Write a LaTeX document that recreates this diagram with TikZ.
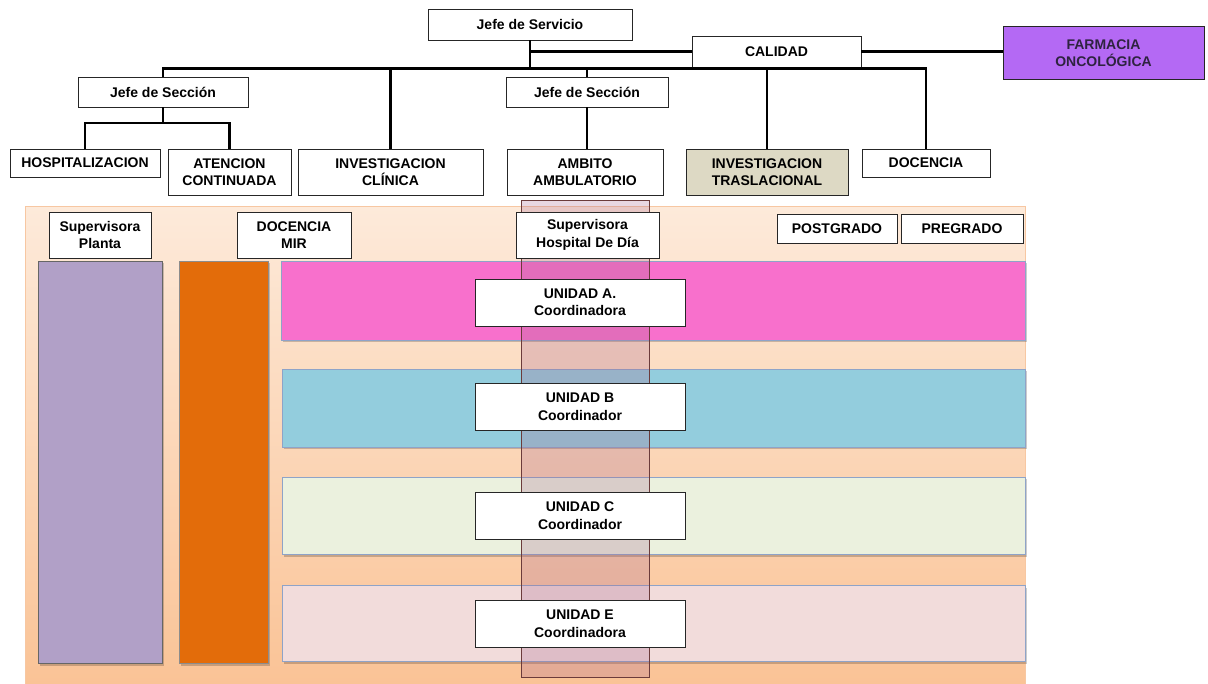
\documentclass[tikz,border=0pt]{standalone}
\usepackage{fontspec}
\setmainfont{Liberation Sans}
\usetikzlibrary{positioning,calc}
\definecolor{panelTop}{HTML}{FDEADA}
\definecolor{panelBot}{HTML}{FAC396}
\definecolor{panelLine}{HTML}{F7C7A2}
\definecolor{lilac}{HTML}{B1A0C7}
\definecolor{mirOrange}{HTML}{E36C0A}
\definecolor{unitA}{HTML}{F870CC}
\definecolor{unitB}{HTML}{93CDDD}
\definecolor{unitC}{HTML}{EBF1DE}
\definecolor{unitE}{HTML}{F2DCDB}
\definecolor{bandLine}{HTML}{8EA3C8}
\definecolor{farma}{HTML}{B469F4}
\definecolor{farmaText}{HTML}{2E2340}
\definecolor{trasl}{HTML}{DDD9C4}
\definecolor{hdd}{HTML}{A8668E}
\definecolor{hddLine}{HTML}{6B3B3B}

\begin{document}
\begin{tikzpicture}[
        x=1pt, y=-1pt,
        every node/.style={font=\fontsize{14}{17.5}\selectfont\bfseries, align=center, inner sep=0pt},
        orgbox/.style={draw=black!85, fill=white, line width=0.9pt},
        link/.style={line width=2.8pt, black},
        band/.style={draw=bandLine, line width=0.8pt,
            preaction={fill=black, opacity=0.2, transform canvas={xshift=1.5pt, yshift=-2.5pt}}}
    ]
        \useasboundingbox (0,0) rectangle (1208,684);

        % lower panel
        \shade[top color=panelTop, bottom color=panelBot] (25,207) rectangle (1025,684);
        \draw[panelLine, line width=1pt] (25,684) -- (25,207) -- (1025,207) -- (1025,684);

        \draw[band, fill=lilac, draw=black!60] (38,261) rectangle (162,663);
        \draw[band, fill=mirOrange, draw=black!45] (179,261) rectangle (268,663);
        \draw[band, fill=unitA] (281,261) rectangle (1025,340);
        \draw[band, fill=unitB] (282,369) rectangle (1025,447);
        \draw[band, fill=unitC] (282,477) rectangle (1025,554);
        \draw[band, fill=unitE] (282,585) rectangle (1025,661);

        \draw[draw=hddLine, fill=hdd, fill opacity=0.26, line width=0.9pt] (521,200) rectangle (649,677);

        % top chart
        \node[orgbox, minimum width=204, minimum height=31] (jserv) at (530,24.5) {Jefe de Servicio};
        \node[orgbox, minimum width=169, minimum height=31] (calidad) at (776.5,51.5) {CALIDAD};
        \node[orgbox, fill=farma, text=farmaText, minimum width=201, minimum height=53] (farma) at (1103.5,53) {FARMACIA\\ONCOLÓGICA};
        \node[orgbox, minimum width=170, minimum height=30] (jsec1) at (163,92) {Jefe de Sección};
        \node[orgbox, minimum width=162, minimum height=30] (jsec2) at (587,92) {Jefe de Sección};

        \node[orgbox, minimum width=150, minimum height=28] (hosp) at (85,163) {HOSPITALIZACION};
        \node[orgbox, minimum width=123, minimum height=46] (aten) at (229.5,172) {ATENCION\\CONTINUADA};
        \node[orgbox, minimum width=185, minimum height=46] (invc) at (390.5,172) {INVESTIGACION\\CLÍNICA};
        \node[orgbox, minimum width=156, minimum height=46] (amb) at (585,172) {AMBITO\\AMBULATORIO};
        \node[orgbox, fill=trasl, minimum width=162, minimum height=46] (invt) at (767,172) {INVESTIGACION\\TRASLACIONAL};
        \node[orgbox, minimum width=128, minimum height=28] (doc) at (926,163) {DOCENCIA};

        \coordinate (busL) at (163,68.5);
        \coordinate (sub) at (163,123);
        \draw[link] (jsec1.north) -- (busL) -- (busL -| doc.north) -- (doc.north);
        \draw[link] (jserv.south) -- (jserv.south |- busL);
        \draw[link] (jserv.south |- calidad.west) -- (calidad.west);
        \draw[link] (calidad.east) -- (calidad.east -| farma.west);
        \draw[link] (invc.north) -- (invc.north |- busL);
        \draw[link] (jsec2.north) -- (jsec2.north |- busL);
        \draw[link] (invt.north |- calidad.south) -- (invt.north);
        \draw[link] (jsec1.south) -- (sub);
        \draw[link] (hosp.north) |- (aten.north |- sub) -- (aten.north);
        \draw[link] (jsec2.south) -- (jsec2.south |- amb.north);

        % panel boxes
        \node[orgbox, minimum width=102, minimum height=46] (supp) at (100,235) {Supervisora\\Planta};
        \node[orgbox, minimum width=114, minimum height=46] (mir) at (294,235) {DOCENCIA\\MIR};
        \node[orgbox, minimum width=143, minimum height=46] (suphd) at (587.5,235) {Supervisora\\Hospital De Día};
        \node[orgbox, minimum width=120, minimum height=29] (postg) at (837,228.5) {POSTGRADO};
        \node[orgbox, minimum width=122, minimum height=29] (preg) at (962,228.5) {PREGRADO};

        \node[orgbox, minimum width=210, minimum height=47] (unia) at (580,302.5) {UNIDAD A.\\Coordinadora};
        \node[orgbox, minimum width=210, minimum height=47] (unib) at (580,407) {UNIDAD B\\Coordinador};
        \node[orgbox, minimum width=210, minimum height=47] (unic) at (580,515.5) {UNIDAD C\\Coordinador};
        \node[orgbox, minimum width=210, minimum height=47] (unie) at (580,624) {UNIDAD E\\Coordinadora};
\end{tikzpicture}
\end{document}
